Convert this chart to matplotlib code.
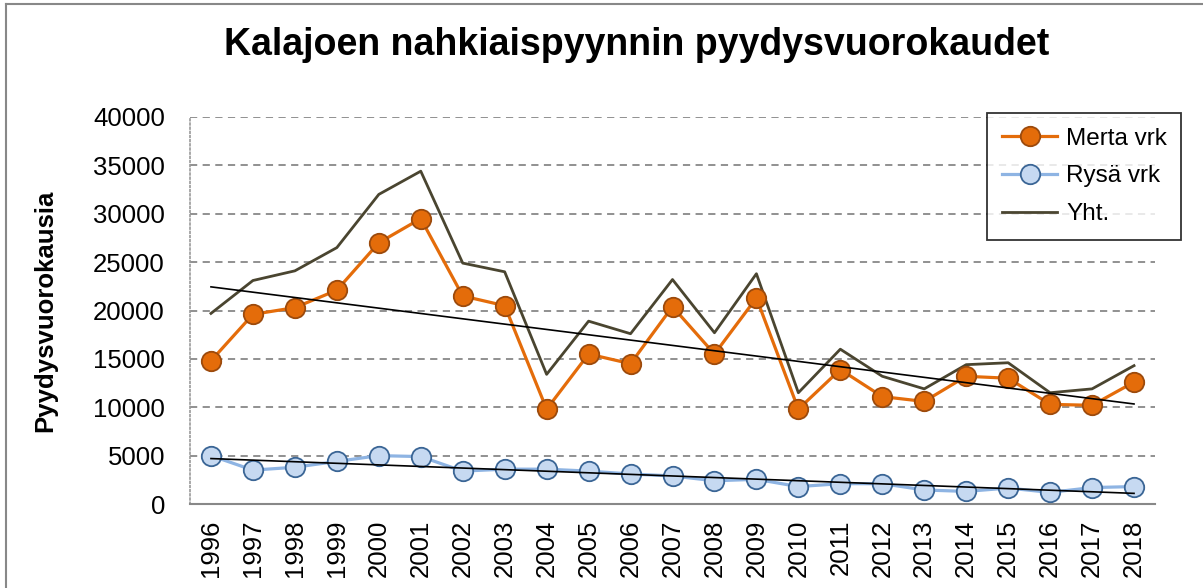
import matplotlib
matplotlib.use("Agg")
import matplotlib.pyplot as plt
import numpy as np

years = [str(y) for y in range(1996, 2019)]
merta = [14800, 19600, 20300, 22100, 27000, 29500, 21500, 20500, 9800, 15500, 14500,
         20400, 15500, 21300, 9800, 13900, 11100, 10600, 13200, 13000, 10300, 10200, 12600]
rysa = [5000, 3500, 3800, 4400, 5000, 4900, 3400, 3600, 3600, 3400, 3100,
        2900, 2400, 2550, 1800, 2100, 2100, 1450, 1300, 1650, 1200, 1700, 1800]
yht = [19700, 23100, 24100, 26500, 32000, 34400, 24900, 24000, 13400, 18900, 17600,
       23200, 17700, 23800, 11500, 16000, 13200, 11900, 14400, 14600, 11500, 11900, 14300]

title = "Kalajoen nahkiaispyynnin pyydysvuorokaudet"
ylabel = "Pyydysvuorokausia"

plt.rcParams['font.family'] = ['Liberation Sans', 'DejaVu Sans']

fig = plt.figure(figsize=(12.03, 5.88), dpi=100)
ax = fig.add_axes([190/1203, 84/588, 965/1203, 387/588])

x = np.arange(len(years))

ax.plot(x, yht, color='#4A4530', lw=2.0, label='Yht.', zorder=3)
ax.plot(x, merta, color='#E46C0A', lw=2.3, marker='o', ms=14, mfc='#E46C0A',
        mec='#9C4A0C', mew=1.3, label='Merta vrk', zorder=4)
ax.plot(x, rysa, color='#8EB4E3', lw=2.3, marker='o', ms=14, mfc='#C6D9F1',
        mec='#3A6595', mew=1.3, label='Rysä vrk', zorder=4)

# linear trend lines
for series in (merta, rysa):
    k, b = np.polyfit(x, series, 1)
    ax.plot(x, k * x + b, color='black', lw=1.2, zorder=5)

ax.set_xlim(-0.5, len(years) - 0.5)
ax.set_ylim(0, 40000)
ax.set_yticks(range(0, 40001, 5000))
ax.set_xticks(x)
ax.set_xticklabels(years, rotation=90, fontsize=18.5)
ax.tick_params(axis='y', labelsize=18.5, length=0, pad=18)
ax.tick_params(axis='x', length=0, pad=11)

ax.yaxis.grid(True, color='#888888', ls=(0, (4, 3)), lw=1.3)
ax.set_axisbelow(True)
for s in ('top', 'right'):
    ax.spines[s].set_visible(False)
ax.spines['bottom'].set_color('#888888')
ax.spines['bottom'].set_linewidth(1.5)
ax.spines['left'].set_color('#999999')
ax.spines['left'].set_linestyle((0, (1, 1.5)))
ax.spines['left'].set_linewidth(1.2)

ax.set_ylabel(ylabel, fontsize=18.5, fontweight='bold', labelpad=26)

fig.text(637/1203, 1 - 45/588, title, ha='center', va='center', fontsize=27, fontweight='bold')

h, l = ax.get_legend_handles_labels()
order = [1, 2, 0]
leg = fig.legend([h[i] for i in order], [l[i] for i in order],
                 loc='upper left', bbox_to_anchor=(987/1203, 1 - 113/588), borderaxespad=0,
                 fontsize=17.5, frameon=True, fancybox=False, edgecolor='black',
                 handlelength=2.3, borderpad=0.6, labelspacing=0.65, handletextpad=0.35)
leg.get_frame().set_linewidth(1.3)

# outer frame (partially visible in reference)
fig.add_artist(plt.Line2D([6/1203, 6/1203], [0, 1 - 4/588], transform=fig.transFigure, color='#888888', lw=1.5))
fig.add_artist(plt.Line2D([6/1203, 1], [1 - 4/588, 1 - 4/588], transform=fig.transFigure, color='#888888', lw=1.5))

fig.savefig("out.png", dpi=100)
